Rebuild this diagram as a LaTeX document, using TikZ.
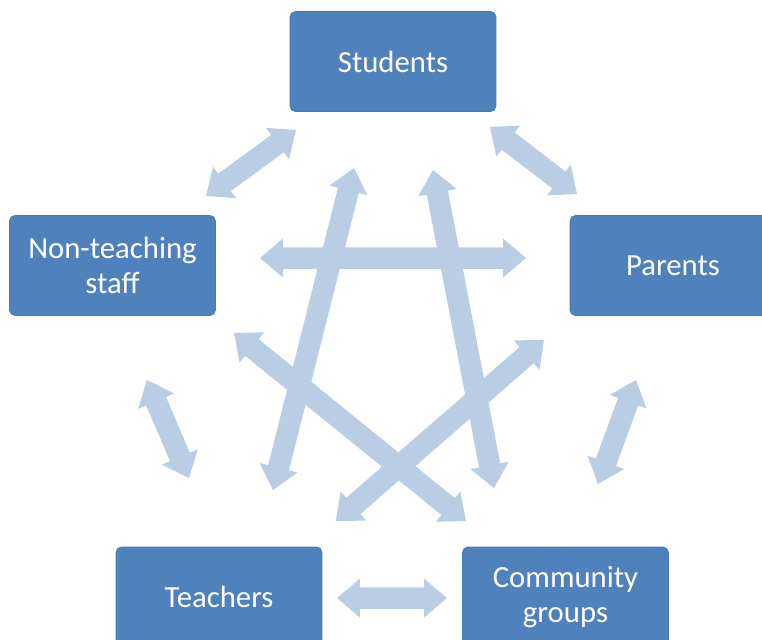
\documentclass[tikz,border=0pt]{standalone}
\usepackage{fontspec}
\setmainfont{Carlito}
\usetikzlibrary{calc}

\definecolor{boxblue}{HTML}{4F81BD}
\definecolor{boxedge}{HTML}{4A7AB3}
\definecolor{linkblue}{HTML}{B9CDE5}

% half head width, half shaft width, head length of the block arrows
\def\ahw{0.39cm}
\def\asw{0.215cm}
\def\ahl{0.46cm}

% double-headed block arrow between two named coordinates
\newcommand\dblarrow[2]{%
  \fill[linkblue, line join=round]
    (#1)
    -- ($(#1)!\ahl!(#2)!\ahw!90:(#2)$)
    -- ($(#1)!\ahl!(#2)!\asw!90:(#2)$)
    -- ($(#2)!\ahl!(#1)!\asw!-90:(#1)$)
    -- ($(#2)!\ahl!(#1)!\ahw!-90:(#1)$)
    -- (#2)
    -- ($(#2)!\ahl!(#1)!\ahw!90:(#1)$)
    -- ($(#2)!\ahl!(#1)!\asw!90:(#1)$)
    -- ($(#1)!\ahl!(#2)!\asw!-90:(#2)$)
    -- ($(#1)!\ahl!(#2)!\ahw!-90:(#2)$)
    -- cycle;}

\tikzset{
  group/.style={fill=boxblue, draw=boxedge, line width=0.4pt, rounded corners=3pt,
    minimum width=4.12cm, minimum height=2.0cm, text=white, align=center,
    font=\fontsize{17.5}{19.5}\selectfont, inner sep=0pt},
}

\begin{document}
\begin{tikzpicture}[x=0.02cm, y=-0.02cm]
\useasboundingbox (0,0) rectangle (762,640);
\clip (0,0) rectangle (762,640);

% stakeholder groups
\node[group] (students) at (393,61.5) {Students};
\node[group] (staff) at (112.5,265.5) {Non-teaching\\staff};
\node[group] (parents) at (673,265.5) {Parents};
\node[group] (teachers) at (219,597) {Teachers};
\node[group] (community) at (565.5,597) {Community\\groups};

% arrow end points
\coordinate (st-a) at (296,130);  \coordinate (st-b) at (206,196);
\coordinate (sp-a) at (490,127);  \coordinate (sp-b) at (577,194);
\coordinate (nt-a) at (147,380);  \coordinate (nt-b) at (189,478);
\coordinate (pc-a) at (636,380);  \coordinate (pc-b) at (598,484);
\coordinate (tc-a) at (337,598);  \coordinate (tc-b) at (447,598);
\coordinate (np-a) at (260,258);  \coordinate (np-b) at (526,258);
\coordinate (sT-a) at (354,168);  \coordinate (sT-b) at (273,490);
\coordinate (sC-a) at (433,170);  \coordinate (sC-b) at (494,488);
\coordinate (nC-a) at (234,333);  \coordinate (nC-b) at (466,521);
\coordinate (pT-a) at (544,340);  \coordinate (pT-b) at (336,521);

% two-way links
\dblarrow{st-a}{st-b}
\dblarrow{sp-a}{sp-b}
\dblarrow{nt-a}{nt-b}
\dblarrow{pc-a}{pc-b}
\dblarrow{tc-a}{tc-b}
\dblarrow{np-a}{np-b}
\dblarrow{sT-a}{sT-b}
\dblarrow{sC-a}{sC-b}
\dblarrow{nC-a}{nC-b}
\dblarrow{pT-a}{pT-b}
\end{tikzpicture}
\end{document}
